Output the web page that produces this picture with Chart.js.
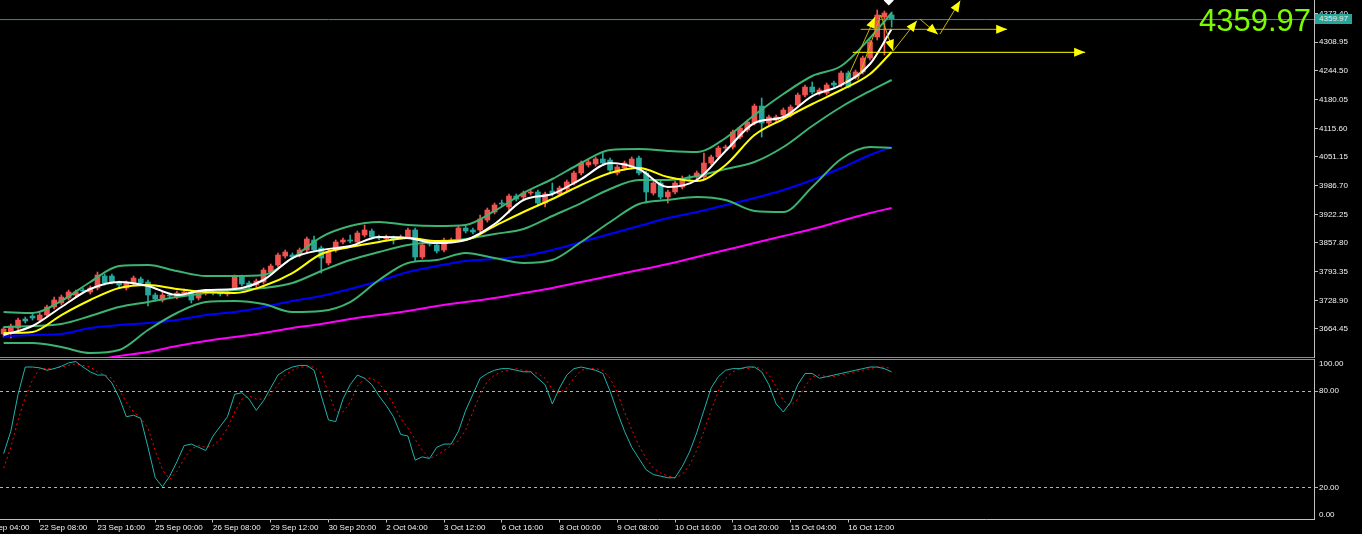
<!DOCTYPE html>
<html>
<head>
<meta charset="utf-8">
<script src="https://cdn.jsdelivr.net/npm/chart.js@4.4.1/dist/chart.umd.min.js"></script>
<style>
  html, body { margin: 0; padding: 0; background: #000; }
  body { width: 1362px; height: 534px; position: relative; overflow: hidden; font-family: "Liberation Sans", Arial, sans-serif; }
  #main { position: absolute; left: 0; top: 0; }
  #sub { position: absolute; left: 0; top: 350px; }
  .sep { position: absolute; left: 0; width: 1314px; height: 1px; background: #8c8c8c; }
  #bigPrice { position: absolute; right: 51px; top: 5px; color: #7cfc00; font-size: 31px; line-height: 1; }
  #tag { position: absolute; left: 1315px; top: 14px; width: 37px; height: 10px; background: #26a69a; color: #e8e8e8; font-size: 8px; line-height: 10px; text-align: center; }
</style>
</head>
<body>
<canvas id="main" width="1362" height="358"></canvas>
<div class="sep" style="top:357px"></div>
<div class="sep" style="top:359px"></div>
<canvas id="sub" width="1362" height="184"></canvas>
<div id="bigPrice">4359.97</div>
<div id="tag">4359.97</div>
<script>
// H4 candles, index 0 = first visible bar
const openP = [
  3653.2,3655.4,3666.7,3686.9,3693.6,3684.6,3695.9,3713.9,3722.9,3734.1,
  3740.8,3752.1,3747.6,3756.6,3783.6,3783.6,3767.8,3756.6,3767.8,3776.8,
  3770.1,3740.8,3729.6,3740.8,3736.3,3745.3,3745.3,3734.1,3745.3,3747.6,
  3745.3,3743.1,3756.6,3781.3,3767.8,3763.3,3770.1,3792.5,3808.3,3828.5,
  3830.8,3830.8,3842.0,3864.5,3846.5,3812.8,3842.0,3860.0,3864.5,3860.0,
  3875.7,3884.7,3871.2,3866.7,3869.0,3869.0,3871.2,3887.0,3826.3,3857.7,
  3853.2,3842.0,3862.2,3866.7,3891.5,3887.0,3887.0,3909.4,3927.4,3947.6,
  3938.7,3963.4,3961.1,3970.1,3972.4,3947.6,3974.6,3967.9,3979.1,3992.6,
  4015.1,4033.1,4035.3,4046.6,4044.3,4015.1,4026.3,4028.6,4048.8,4015.1,
  3970.1,3992.6,3961.1,3972.4,3983.6,4006.1,4006.1,4006.1,4037.6,4051.1,
  4071.3,4073.5,4096.0,4111.8,4127.5,4165.7,4127.5,4134.2,4145.5,4145.5,
  4168.0,4190.4,4208.4,4194.9,4194.9,4217.4,4212.9,4239.9,4230.9,4242.2,
  4273.6,4320.8,4365.8,4370.3
];
const highP = [
  3668.9,3675.6,3689.1,3691.4,3698.1,3700.4,3718.4,3736.3,3740.8,3752.1,
  3752.1,3756.6,3761.1,3792.5,3788.0,3788.0,3772.3,3772.3,3783.6,3781.3,
  3774.6,3745.3,3747.6,3745.3,3749.8,3754.3,3749.8,3752.1,3752.1,3752.1,
  3749.8,3752.1,3785.8,3785.8,3772.3,3776.8,3801.5,3810.5,3835.3,3842.0,
  3835.3,3846.5,3871.2,3873.5,3851.0,3842.0,3864.5,3869.0,3875.7,3884.7,
  3898.2,3889.2,3875.7,3875.7,3873.5,3875.7,3891.5,3891.5,3857.7,3862.2,
  3857.7,3869.0,3869.0,3895.9,3895.9,3891.5,3920.7,3936.4,3947.6,3954.4,
  3967.9,3967.9,3974.6,3976.9,3976.9,3972.4,3992.6,3985.9,3999.4,4019.6,
  4042.1,4044.3,4051.1,4060.1,4048.8,4033.1,4042.1,4051.1,4053.3,4019.6,
  3997.1,3997.1,3976.9,3997.1,4008.4,4010.6,4019.6,4060.1,4055.6,4075.8,
  4078.0,4111.8,4120.8,4134.2,4170.2,4183.7,4145.5,4145.5,4161.2,4168.0,
  4194.9,4212.9,4219.7,4206.2,4217.4,4221.9,4244.4,4244.4,4246.6,4278.1,
  4314.1,4381.5,4379.3,4377.0
];
const lowP = [
  3646.4,3644.2,3662.2,3677.9,3684.6,3680.1,3693.6,3709.4,3718.4,3729.6,
  3736.3,3745.3,3743.1,3752.1,3763.3,3765.6,3758.8,3752.1,3763.3,3763.3,
  3716.1,3727.4,3725.1,3734.1,3731.8,3740.8,3722.9,3729.6,3740.8,3740.8,
  3738.6,3738.6,3752.1,3761.1,3754.3,3758.8,3765.6,3788.0,3803.8,3824.0,
  3821.8,3826.3,3837.5,3837.5,3790.3,3808.3,3837.5,3855.5,3857.7,3855.5,
  3871.2,3866.7,3864.5,3862.2,3855.5,3866.7,3866.7,3817.3,3821.8,3851.0,
  3835.3,3837.5,3857.7,3862.2,3880.2,3878.0,3882.5,3904.9,3922.9,3940.9,
  3925.2,3952.1,3956.6,3965.6,3943.2,3938.7,3963.4,3963.4,3974.6,3988.1,
  4010.6,4028.6,4030.8,4033.1,4017.3,4010.6,4021.8,4024.1,4010.6,3947.6,
  3965.6,3956.6,3947.6,3967.9,3979.1,3999.4,4001.6,4001.6,4033.1,4046.6,
  4066.8,4069.0,4091.5,4107.3,4123.0,4096.0,4123.0,4129.7,4141.0,4141.0,
  4163.5,4185.9,4192.7,4190.4,4190.4,4208.4,4208.4,4206.2,4226.4,4237.6,
  4269.1,4314.1,4280.4,4343.3
];
const closeP = [
  3664.4,3671.2,3684.6,3682.4,3689.1,3695.9,3713.9,3729.6,3736.3,3747.6,
  3747.6,3749.8,3756.6,3785.8,3767.8,3770.1,3763.3,3767.8,3779.1,3767.8,
  3740.8,3731.8,3740.8,3738.6,3745.3,3747.6,3729.6,3747.6,3747.6,3745.3,
  3743.1,3747.6,3781.3,3765.6,3758.8,3772.3,3797.0,3806.0,3830.8,3837.5,
  3826.3,3842.0,3866.7,3842.0,3824.0,3837.5,3860.0,3864.5,3862.2,3880.2,
  3887.0,3871.2,3869.0,3869.0,3866.7,3871.2,3887.0,3826.3,3853.2,3855.5,
  3839.8,3864.5,3864.5,3891.5,3884.7,3882.5,3911.7,3931.9,3943.2,3945.4,
  3963.4,3956.6,3970.1,3972.4,3947.6,3967.9,3970.1,3981.4,3994.9,4015.1,
  4037.6,4039.8,4046.6,4037.6,4021.8,4028.6,4037.6,4046.6,4015.1,3972.4,
  3992.6,3961.1,3972.4,3992.6,3999.4,4003.9,4015.1,4037.6,4051.1,4071.3,
  4073.5,4107.3,4116.3,4129.7,4165.7,4127.5,4141.0,4141.0,4156.7,4163.5,
  4190.4,4208.4,4197.2,4201.7,4212.9,4212.9,4239.9,4208.4,4242.2,4273.6,
  4309.6,4370.3,4374.8,4359.97
];

// indicator lines, read every 4th bar
const lineIdx = [0,4,8,12,16,20,24,28,32,36,40,44,48,52,56,60,64,68,72,76,80,84,88,92,96,100,104,108,112,116,120,123];
const maFast = [3650.9,3671.2,3713.9,3754.3,3770.1,3761.1,3740.8,3752.1,3754.3,3774.6,3824.0,3842.0,3851.0,3871.2,3869.0,3857.7,
  3864.5,3900.4,3954.4,3967.9,4001.6,4037.6,4024.1,3983.6,3999.4,4064.6,4127.5,4141.0,4188.2,4212.9,4260.1,4338.8];
const maSlow = [3655.4,3657.7,3695.9,3729.6,3756.6,3763.3,3754.3,3747.6,3745.3,3761.1,3790.3,3833.0,3848.7,3860.0,3869.0,3862.2,
  3864.5,3895.9,3927.4,3956.6,3988.1,4015.1,4026.3,4006.1,3997.1,4033.1,4100.5,4136.5,4170.2,4201.7,4237.6,4287.1];
const bbUpper = [3702.6,3700.4,3727.4,3770.1,3806.0,3808.3,3794.8,3783.6,3783.6,3785.8,3824.0,3871.2,3895.9,3904.9,3898.2,3895.9,
  3898.2,3929.7,3970.1,4001.6,4037.6,4066.8,4069.0,4064.6,4062.3,4093.8,4145.5,4192.7,4233.2,4255.6,4318.6,4374.8];
const bbMiddle = [3668.9,3671.2,3675.6,3693.6,3713.9,3725.1,3736.3,3745.3,3752.1,3756.6,3767.8,3794.8,3819.5,3837.5,3853.2,3860.0,
  3866.7,3878.0,3889.2,3918.4,3947.6,3979.1,3999.4,3999.4,4008.4,4024.1,4039.8,4073.5,4120.8,4163.5,4199.4,4224.2];
const bbLower = [3632.9,3632.9,3623.9,3610.5,3617.2,3662.2,3700.4,3725.1,3727.4,3720.6,3702.6,3704.9,3725.1,3774.6,3812.8,3819.5,
  3835.3,3824.0,3812.8,3819.5,3860.0,3904.9,3945.4,3954.4,3961.1,3954.4,3929.7,3927.4,3983.6,4046.6,4073.5,4071.3];
const maLong = [3648.7,3650.9,3653.2,3666.7,3673.4,3677.9,3684.6,3695.9,3702.6,3713.9,3727.4,3738.6,3754.3,3772.3,3792.5,3806.0,
  3817.3,3821.8,3828.5,3842.0,3860.0,3878.0,3895.9,3913.9,3927.4,3943.2,3958.9,3976.9,3999.4,4026.3,4055.6,4073.5];
const maLonger = [null,null,null,3592.5,3603.7,3612.7,3626.2,3637.4,3646.4,3655.4,3666.7,3675.6,3686.9,3695.9,3704.9,3716.1,
  3725.1,3734.1,3745.3,3756.6,3770.1,3783.6,3797.0,3810.5,3826.3,3842.0,3857.7,3873.5,3889.2,3907.2,3925.2,3936.4];

// stochastic %K / %D per bar
const stochK = [
  41,55,78,95,95,94.5,93,94,95.5,97.6, 98.4,95,92,90,90,85,76,64,65,63,
  45,26,20.4,27,36,46,47,45,43,52, 58,64,78,79,75,68,74,82,90,93,
  95,96,96,93,77,62,61,75,84,90, 88,84,77,71,64,53,52,37,39,38,
  45,47,47,55,68,78,88,91,93,94, 94,93,92,92,88,84,72,82,90,94,
  95,94,93,91,80,67,55,45,38,31, 28,27,26,26,33,42,54,68,82,89,
  93,94,94,95,95,92,84,72,67,73, 84,91,91,88,89,90,91,92,93,94,
  95,95,94,92
];
const stochD = [
  32,45,62,76,87,94,94,94,95,96, 97,96,95,92,90,88,81,73,67,63,
  57,43,31,25,30,38,44,46,45,46, 50,57,67,75,77,75,75,78,84,90,
  93,95,95,95,91,79,67,67,73,83, 88,88,85,79,72,63,57,50,43,38,
  40,43,46,49,56,67,78,86,90,92, 93,94,93,92,91,88,81,79,82,88,
  93,94,94,93,88,79,67,56,46,38, 32,29,27,26,28,34,43,55,68,80,
  88,92,94,94,95,94,90,83,74,71, 75,83,89,90,89,89,90,91,92,93,
  94,95,95,94
];

const bidPrice = 4359.97;
const priceTicks = [3664.45,3728.90,3793.35,3857.80,3922.25,3986.70,4051.15,4115.60,4180.05,4244.50,4308.95,4373.40];
const stochLevels = [0, 20, 80, 100];
const timeTickIdx = [-3,5,13,21,29,37,45,53,61,69,77,85,93,101,109,117];
const timeLabels = ["19 Sep 04:00","22 Sep 08:00","23 Sep 16:00","25 Sep 00:00","26 Sep 08:00","29 Sep 12:00","30 Sep 20:00","2 Oct 04:00",
  "3 Oct 12:00","6 Oct 16:00","8 Oct 00:00","9 Oct 08:00","10 Oct 16:00","13 Oct 20:00","15 Oct 04:00","16 Oct 12:00"];

// hand drawn arrows: [bar index, price] pairs
const arrowTop = [[118.7, 4338.1], [139.0, 4338.1]];
const arrowLow = [[117.6, 4286.4], [149.8, 4286.4]];
const arrowUp1 = [[116.5, 4215.2], [120.7, 4365.8]];
const zig0 = [[118.3, 4224.2], [121.5, 4370.3]];
const zigA = [[121.5, 4370.3], [123.2, 4289.4]];
const zigB = [[123.2, 4289.4], [126.5, 4357.5]];
const zigC = [[126.9, 4361.3], [129.4, 4326.9]];
const zigD = [[129.7, 4327.6], [132.5, 4402.4]];
const marker = [[122.6, 4403.0]];

const UP = '#ef5350', DOWN = '#26a69a';
const axisColor = '#c0c0c0';
const labelColor = '#f2f2f2';
const labelFont = { family: '"Liberation Sans", Arial, sans-serif', size: 8 };

function pts(idx, vals) {
  return idx.map((x, k) => ({ x: x, y: vals[k] }));
}

function lineSet(vals, color) {
  return {
    type: 'line', data: pts(lineIdx, vals), borderColor: color, borderWidth: 2,
    pointRadius: 0, cubicInterpolationMode: 'monotone', spanGaps: true
  };
}

function arrowSet(p, color, head) {
  return {
    type: 'line', data: p.map(q => ({ x: q[0], y: q[1] })), borderColor: color, borderWidth: 1,
    pointRadius: 0, tension: 0, arrowHead: head
  };
}

const candleColor = closeP.map((c, i) => c >= openP[i] ? UP : DOWN);

const arrowHeads = {
  id: 'arrowHeads',
  afterDatasetsDraw(chart) {
    const ctx = chart.ctx, a = chart.chartArea;
    ctx.save();
    ctx.beginPath();
    ctx.rect(a.left, a.top, a.right - a.left, a.bottom - a.top);
    ctx.clip();
    chart.data.datasets.forEach((ds, i) => {
      if (!ds.arrowHead) return;
      const el = chart.getDatasetMeta(i).data;
      const p1 = el[el.length - 2], p2 = el[el.length - 1];
      const ang = Math.atan2(p2.y - p1.y, p2.x - p1.x);
      const L = 11, W = 4.5;
      const bx = p2.x - L * Math.cos(ang), by = p2.y - L * Math.sin(ang);
      ctx.fillStyle = ds.arrowHead;
      ctx.beginPath();
      ctx.moveTo(p2.x, p2.y);
      ctx.lineTo(bx + W * Math.sin(ang), by - W * Math.cos(ang));
      ctx.lineTo(bx - W * Math.sin(ang), by + W * Math.cos(ang));
      ctx.closePath();
      ctx.fill();
    });
    ctx.restore();
  }
};

function noPad(w) {
  return function (scale) {
    if (w) scale.width = w;
    scale.paddingTop = 0; scale.paddingBottom = 0;
    scale.paddingLeft = 0; scale.paddingRight = 0;
  };
}

new Chart(document.getElementById('main'), {
  type: 'bar',
  data: {
    datasets: [
      {
        type: 'line', data: marker.map(q => ({ x: q[0], y: q[1] })), showLine: false,
        pointStyle: 'rectRot', pointRadius: 5, pointBackgroundColor: '#ffffff', pointBorderWidth: 0
      },
      arrowSet(arrowUp1, '#c8b400', '#ffff00'),
      arrowSet(zig0, '#c8b400', null),
      arrowSet(zigA, '#c8b400', '#ffff00'),
      arrowSet(zigB, '#c8b400', '#ffff00'),
      arrowSet(zigC, '#c8b400', '#ffff00'),
      arrowSet(zigD, '#c8b400', '#ffff00'),
      arrowSet(arrowTop, '#c8b400', '#ffff00'),
      arrowSet(arrowLow, '#ffff00', '#ffff00'),
      lineSet(maFast, '#ffffff'),
      lineSet(maSlow, '#ffff00'),
      lineSet(bbUpper, '#3cb371'),
      lineSet(bbMiddle, '#3cb371'),
      lineSet(bbLower, '#3cb371'),
      lineSet(maLong, '#0000ff'),
      lineSet(maLonger, '#ff00ff'),
      {
        type: 'line', data: [{ x: -0.5, y: bidPrice }, { x: 181.5, y: bidPrice }],
        borderColor: '#2f8f8a', borderWidth: 1, pointRadius: 0
      },
      {
        data: openP.map((o, i) => ({ x: i, y: [o, closeP[i]] })),
        backgroundColor: candleColor, borderWidth: 0, barThickness: 5, minBarLength: 1, grouped: false
      },
      {
        data: lowP.map((l, i) => ({ x: i, y: [l, highP[i]] })),
        backgroundColor: candleColor, borderWidth: 0, barThickness: 1, grouped: false
      }
    ]
  },
  options: {
    responsive: false, animation: false, events: [],
    layout: { autoPadding: false, padding: { top: 0, bottom: 1, left: 0, right: 0 } },
    plugins: { legend: { display: false }, tooltip: { enabled: false } },
    scales: {
      x: { type: 'linear', min: -0.5, max: 181.5, offset: false, display: false },
      y: {
        position: 'right', min: 3601.5, max: 4404,
        afterBuildTicks: s => { s.ticks = priceTicks.map(v => ({ value: v })); },
        afterFit: noPad(48),
        ticks: { color: labelColor, font: labelFont, padding: 1, callback: v => v.toFixed(2) },
        grid: { drawOnChartArea: false, tickLength: 4, color: axisColor },
        border: { color: axisColor }
      }
    }
  },
  plugins: [arrowHeads]
});

new Chart(document.getElementById('sub'), {
  type: 'line',
  data: {
    datasets: [
      {
        data: stochK.map((v, i) => ({ x: i, y: v })), borderColor: '#20b2aa', borderWidth: 1, pointRadius: 0
      },
      {
        data: stochD.map((v, i) => ({ x: i, y: v })), borderColor: '#ff0000', borderWidth: 1, pointRadius: 0,
        borderDash: [2, 3]
      }
    ]
  },
  options: {
    responsive: false, animation: false, events: [],
    layout: { autoPadding: false, padding: { top: 9, bottom: 0, left: 0, right: 0 } },
    plugins: { legend: { display: false }, tooltip: { enabled: false } },
    scales: {
      x: {
        type: 'linear', min: -0.5, max: 181.5,
        afterBuildTicks: s => { s.ticks = timeTickIdx.map(v => ({ value: v })); },
        afterFit: function (s) { s.height = 14.5; noPad(0)(s); },
        ticks: {
          autoSkip: false, maxRotation: 0, align: 'start', padding: 0, color: labelColor, font: labelFont,
          callback: v => timeLabels[timeTickIdx.indexOf(v)]
        },
        grid: { drawOnChartArea: false, tickLength: 3, color: axisColor },
        border: { color: axisColor }
      },
      y: {
        position: 'right', min: 0, max: 100,
        afterBuildTicks: s => { s.ticks = stochLevels.map(v => ({ value: v })); },
        afterFit: noPad(48),
        ticks: {
          color: labelColor, font: labelFont, padding: 1,
          // keep the edge labels inside the window, like the terminal does
          callback: v => v === 100 ? ['', '100.00'] : (v === 0 ? ['0.00', ''] : v.toFixed(2))
        },
        grid: {
          tickLength: 4,
          color: c => (c.tick && (c.tick.value === 20 || c.tick.value === 80)) ? '#b4b4b4' : 'rgba(0,0,0,0)'
        },
        border: { color: axisColor, dash: [3, 3] }
      }
    }
  }
});
</script>
</body>
</html>
